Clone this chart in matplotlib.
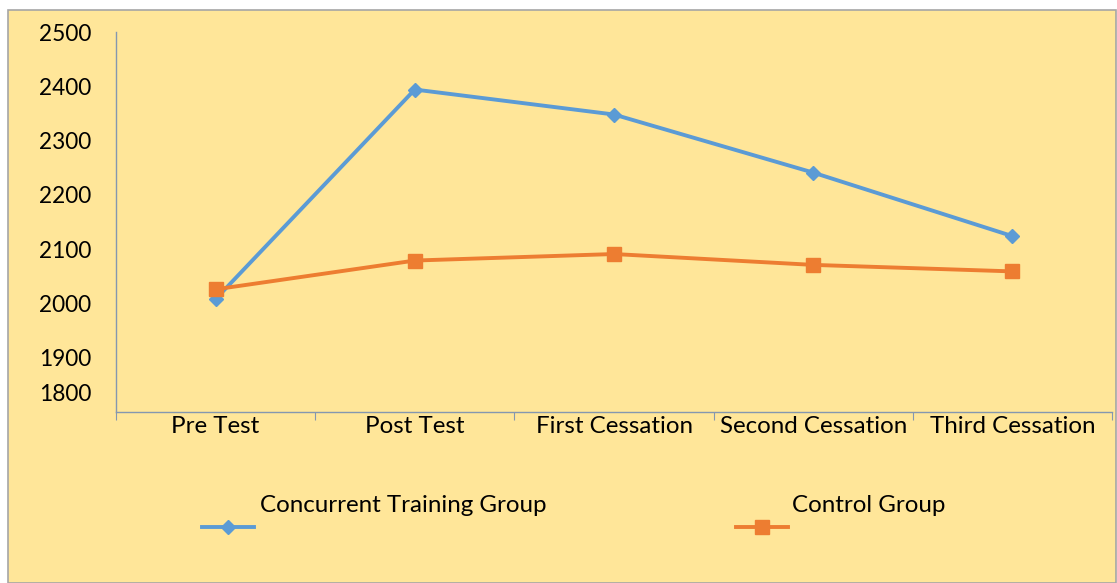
import numpy as np
import matplotlib.pyplot as plt
from matplotlib.patches import Rectangle
from matplotlib.lines import Line2D
from matplotlib.transforms import ScaledTranslation

categories = ["Pre Test", "Post Test", "First Cessation", "Second Cessation", "Third Cessation"]
concurrent = [2008, 2394, 2348, 2241, 2124]
control = [2026, 2079, 2091, 2071, 2059]
y_ticks = [1800, 1900, 2000, 2100, 2200, 2300, 2400, 2500]

blue = "#5B9BD5"
orange = "#ED7D31"
bg = "#FFE699"
spine_col = "#8497B0"

plt.rcParams['font.family'] = ['Lato', 'DejaVu Sans']
fs = 16.3
fs_txt = 17.4

W, H = 1117, 583
fig = plt.figure(figsize=(W / 100, H / 100), dpi=100)
fig.patch.set_facecolor("white")

# chart area with border
fig.patches.append(Rectangle((8 / W, 0), (W - 9) / W, (H - 10) / H, transform=fig.transFigure,
                             facecolor=bg, edgecolor="#A6A6A6", linewidth=1.2, zorder=-5))

ax = fig.add_axes([116 / W, (H - 412) / H, (1112 - 116) / W, (412 - 32) / H])
ax.set_facecolor("none")
ax.set_zorder(2)

x = np.arange(len(categories))
ax.plot(x, concurrent, color=blue, linewidth=2.8, marker="D", markersize=7, zorder=3)
ax.plot(x, control, color=orange, linewidth=2.8, marker="s", markersize=10, zorder=3)

ax.set_xlim(-0.5, len(categories) - 0.5)
ax.set_ylim(1800, 2500)

for s in ["top", "right"]:
    ax.spines[s].set_visible(False)
for s in ["left", "bottom"]:
    ax.spines[s].set_color(spine_col)
    ax.spines[s].set_linewidth(1.0)

ax.set_xticks(np.arange(len(categories) + 1) - 0.5)
ax.set_xticklabels([])
ax.tick_params(axis="x", which="major", direction="out", length=6, color=spine_col)
ax.set_xticks(x, minor=True)
ax.set_xticklabels(categories, minor=True, fontsize=fs_txt)
ax.tick_params(axis="x", which="minor", length=0, pad=3)

ax.set_yticks(y_ticks)
ax.set_yticklabels([str(v) for v in y_ticks], fontsize=fs)
ax.tick_params(axis="y", length=0, pad=18)
# Excel squeezes the lowest label up
lbl = ax.get_yticklabels()[0]
lbl.set_transform(lbl.get_transform() + ScaledTranslation(0, 20 / 100, fig.dpi_scale_trans))

# legend drawn manually
fig.add_artist(Line2D([202 / W, 254 / W], [(H - 527) / H] * 2, color=blue, linewidth=2.8,
                      transform=fig.transFigure))
fig.add_artist(Line2D([228 / W], [(H - 527) / H], color=blue, marker="D", markersize=7,
                      transform=fig.transFigure))
fig.text(260 / W, (H - 506) / H, "Concurrent Training Group", fontsize=fs_txt, va="center", ha="left")
fig.add_artist(Line2D([736 / W, 788 / W], [(H - 527) / H] * 2, color=orange, linewidth=2.8,
                      transform=fig.transFigure))
fig.add_artist(Line2D([762 / W], [(H - 527) / H], color=orange, marker="s", markersize=10,
                      transform=fig.transFigure))
fig.text(792 / W, (H - 506) / H, "Control Group", fontsize=fs_txt, va="center", ha="left")

fig.savefig("out.png", dpi=100)
